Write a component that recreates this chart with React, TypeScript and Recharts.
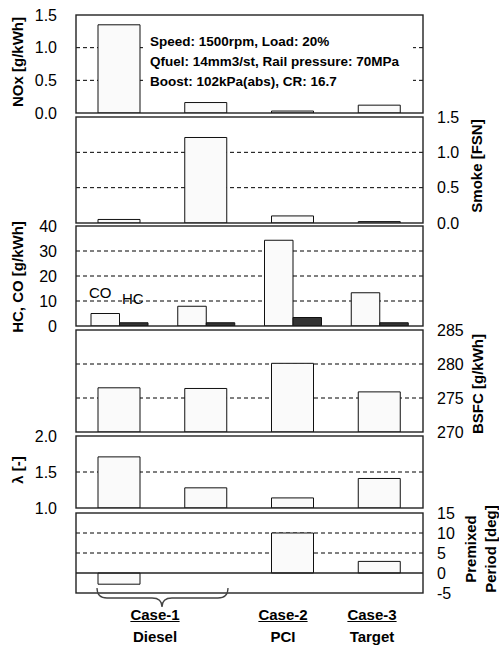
import React from 'react';
import {
  BarChart,
  Bar,
  XAxis,
  YAxis,
  CartesianGrid,
  ReferenceLine,
} from 'recharts';

// categories (two diesel conditions, PCI, target)
const CASES = ['Diesel A', 'Diesel B', 'PCI', 'Target'];

// series values
const NOX = [1.35, 0.16, 0.03, 0.12];
const SMOKE = [0.05, 1.21, 0.1, 0.02];
const CO = [5.0, 7.9, 34.3, 13.3];
const HC = [1.3, 1.3, 3.4, 1.3];
const BSFC = [276.5, 276.4, 280.1, 275.9];
const LAMBDA = [1.71, 1.28, 1.14, 1.41];
const PREMIXED = [-2.8, 0, 10, 2.9];

// tick labels
const NOX_TICKS = [0, 0.5, 1.0, 1.5];
const SMOKE_TICKS = [0, 0.5, 1.0, 1.5];
const HCCO_TICKS = [0, 10, 20, 30, 40];
const BSFC_TICKS = [270, 275, 280, 285];
const LAMBDA_TICKS = [1.0, 1.5, 2.0];
const PREMIX_TICKS = [-5, 0, 5, 10, 15];

const CONDITIONS = [
  'Speed: 1500rpm, Load: 20%',
  'Qfuel: 14mm3/st, Rail pressure: 70MPa',
  'Boost: 102kPa(abs), CR: 16.7',
];

const data = CASES.map((name, i) => ({
  name,
  nox: NOX[i],
  smoke: SMOKE[i],
  co: CO[i],
  hc: HC[i],
  bsfc: BSFC[i],
  lambda: LAMBDA[i],
  premixed: PREMIXED[i],
}));

const FONT = 'Arial, "Liberation Sans", sans-serif';
const PLOT_L = 76;
const PLOT_W = 347;
const PAD = 12;
const BAR_FILL = '#fafafa';

// panel frames (top, height) in page pixels
const FRAMES = [
  [15, 98],
  [117, 106],
  [226, 100],
  [330, 102],
  [436, 72],
  [513, 80],
];

const fmt1 = (v: number) => v.toFixed(1);
const fmt0 = (v: number) => String(v);

type PanelProps = {
  frame: number[];
  side: 'left' | 'right';
  domain: [number, number];
  ticks: number[];
  grid: number[];
  fmt: (v: number) => string;
  children: React.ReactNode;
  zeroLine?: boolean;
  barSize?: number;
};

function Panel({ frame, side, domain, ticks, grid, fmt, children, zeroLine, barSize = 42 }: PanelProps) {
  const [top, h] = frame;
  const left = side === 'left';
  const rightW = 499 - PLOT_L - PLOT_W;
  return (
    <div style={{ position: 'absolute', left: 0, top: top - PAD }}>
      <BarChart
        width={499}
        height={h + PAD * 2}
        data={data}
        barSize={barSize}
        barGap={0}
        margin={{ top: PAD, bottom: PAD, left: left ? 0 : PLOT_L, right: left ? rightW : 0 }}
      >
        <CartesianGrid
          vertical={false}
          horizontalValues={grid}
          stroke="#000"
          strokeDasharray="4 3"
        />
        <XAxis dataKey="name" hide />
        <YAxis
          orientation={side}
          width={left ? PLOT_L : rightW}
          domain={domain}
          ticks={ticks}
          interval={0}
          allowDataOverflow
          axisLine={false}
          tickLine={false}
          tickSize={0}
          tickMargin={left ? 19 : 14}
          tickFormatter={fmt}
          tick={{ fontSize: 16, fill: '#000', fontFamily: FONT }}
        />
        {children}
        {zeroLine && <ReferenceLine y={0} stroke="#222" strokeWidth={1.3} />}
      </BarChart>
    </div>
  );
}

function VLabel({ x, y, children, lh = 20 }: { x: number; y: number; children: React.ReactNode; lh?: number }) {
  return (
    <div
      style={{
        position: 'absolute',
        left: x,
        top: y,
        transform: 'translate(-50%, -50%) rotate(-90deg)',
        whiteSpace: 'nowrap',
        fontFamily: FONT,
        fontWeight: 'bold',
        fontSize: 15,
        lineHeight: `${lh}px`,
        textAlign: 'center',
      }}
    >
      {children}
    </div>
  );
}

function CaseLabel({ x, top, name }: { x: number; top: number; name: [string, string] }) {
  return (
    <div
      style={{
        position: 'absolute',
        left: x - 50,
        top,
        width: 100,
        textAlign: 'center',
        fontFamily: FONT,
        fontWeight: 'bold',
        fontSize: 15,
        lineHeight: '22px',
      }}
    >
      <div style={{ textDecoration: 'underline' }}>{name[0]}</div>
      <div>{name[1]}</div>
    </div>
  );
}

export default function App() {
  const bar = { stroke: '#111', strokeWidth: 1, isAnimationActive: false };
  return (
    <div
      style={{
        position: 'absolute',
        left: 0,
        top: 0,
        width: 499,
        height: 645,
        background: '#fff',
        overflow: 'hidden',
      }}
    >
      {/* NOx */}
      <Panel frame={FRAMES[0]} side="left" domain={[0, 1.5]} ticks={NOX_TICKS} grid={[0.5, 1.0]} fmt={fmt1}>
        <Bar dataKey="nox" fill={BAR_FILL} {...bar} />
      </Panel>
      {/* Smoke */}
      <Panel frame={FRAMES[1]} side="right" domain={[0, 1.5]} ticks={SMOKE_TICKS} grid={[0.5, 1.0]} fmt={fmt1}>
        <Bar dataKey="smoke" fill={BAR_FILL} {...bar} />
      </Panel>
      {/* HC, CO */}
      <Panel frame={FRAMES[2]} side="left" domain={[0, 40]} ticks={HCCO_TICKS} grid={[10, 20, 30]} fmt={fmt0} barSize={28.5}>
        <Bar dataKey="co" fill={BAR_FILL} {...bar} />
        <Bar dataKey="hc" fill="#333" {...bar} />
      </Panel>
      {/* BSFC */}
      <Panel frame={FRAMES[3]} side="right" domain={[270, 285]} ticks={BSFC_TICKS} grid={[275, 280]} fmt={fmt0}>
        <Bar dataKey="bsfc" fill={BAR_FILL} {...bar} />
      </Panel>
      {/* lambda */}
      <Panel frame={FRAMES[4]} side="left" domain={[1, 2]} ticks={LAMBDA_TICKS} grid={[1.5]} fmt={fmt1}>
        <Bar dataKey="lambda" fill={BAR_FILL} {...bar} />
      </Panel>
      {/* premixed period */}
      <Panel frame={FRAMES[5]} side="right" domain={[-5, 15]} ticks={PREMIX_TICKS} grid={[5, 10]} fmt={fmt0} zeroLine>
        <Bar dataKey="premixed" fill={BAR_FILL} {...bar} />
      </Panel>

      {/* operating conditions */}
      <div
        style={{
          position: 'absolute',
          left: 145,
          top: 32,
          width: 268,
          height: 62,
          background: '#fff',
          paddingLeft: 5,
          boxSizing: 'border-box',
          fontFamily: FONT,
          fontWeight: 'bold',
          fontSize: 13.5,
          lineHeight: '20px',
          whiteSpace: 'nowrap',
        }}
      >
        {CONDITIONS.map((t) => (
          <div key={t}>{t}</div>
        ))}
      </div>

      {/* CO / HC legend text */}
      <div style={{ position: 'absolute', left: 89, top: 284, fontFamily: FONT, fontSize: 15 }}>CO</div>
      <div style={{ position: 'absolute', left: 122, top: 290, fontFamily: FONT, fontSize: 15 }}>HC</div>

      {/* axis titles */}
      <VLabel x={18} y={62}>NOx [g/kWh]</VLabel>
      <VLabel x={477} y={166}>Smoke [FSN]</VLabel>
      <VLabel x={18} y={277}>HC, CO [g/kWh]</VLabel>
      <VLabel x={478} y={384}>BSFC [g/kWh]</VLabel>
      <VLabel x={18} y={470}>λ [-]</VLabel>
      <VLabel x={481} y={549}>
        <div>Premixed</div>
        <div>Period [deg]</div>
      </VLabel>

      {/* panel frames and the brace under the two diesel cases */}
      <svg style={{ position: 'absolute', left: 0, top: 0 }} width={499} height={645}>
        {FRAMES.map(([t, h]) => (
          <rect key={t} x={PLOT_L} y={t} width={PLOT_W} height={h} fill="none" stroke="#222" strokeWidth={1.4} />
        ))}
        <path
          d="M97,588 Q97,598 107,598 L152,598 Q162,598 162,607 Q162,598 172,598 L218,598 Q228,598 228,588"
          fill="none"
          stroke="#444"
          strokeWidth={1.3}
        />
      </svg>

      <CaseLabel x={155} top={604} name={['Case-1', 'Diesel']} />
      <CaseLabel x={283} top={604} name={['Case-2', 'PCI']} />
      <CaseLabel x={372} top={604} name={['Case-3', 'Target']} />
    </div>
  );
}
